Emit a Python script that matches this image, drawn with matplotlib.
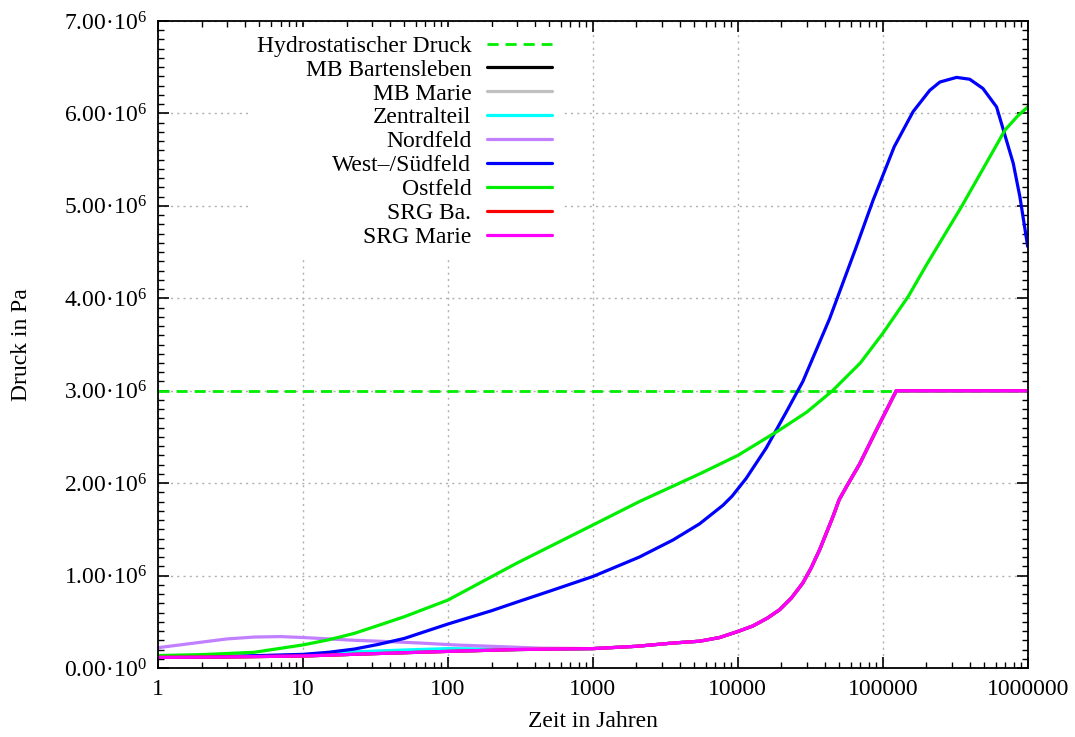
#!/usr/bin/env python3
import matplotlib
matplotlib.use('agg')
import matplotlib.pyplot as plt
from matplotlib.ticker import FixedLocator, FuncFormatter, LogLocator, MultipleLocator

plt.rcParams['font.family'] = ['Liberation Serif', 'DejaVu Serif']
plt.rcParams['mathtext.fontset'] = 'custom'
plt.rcParams['mathtext.rm'] = 'Liberation Serif'
plt.rcParams['mathtext.it'] = 'Liberation Serif:italic'
plt.rcParams['mathtext.bf'] = 'Liberation Serif:bold'

# Zeit in Jahren / Druck in Pa
hydro_t = [1, 1e6]
hydro_p = [3.0e6, 3.0e6]

srg_t = [1, 3, 10, 30, 100, 300, 1000, 2000, 3540, 5450, 7490, 10000, 12700,
         16000, 19400, 23500, 28100, 32000, 36700, 45400, 50000, 56100, 69400,
         90400, 124000, 1e6]
srg_p = [0.115e6, 0.12e6, 0.13e6, 0.155e6, 0.18e6, 0.20e6, 0.21e6, 0.235e6,
         0.27e6, 0.29e6, 0.33e6, 0.395e6, 0.455e6, 0.54e6, 0.63e6, 0.76e6,
         0.92e6, 1.08e6, 1.28e6, 1.64e6, 1.82e6, 1.96e6, 2.21e6, 2.575e6,
         3.0e6, 3.0e6]

zentral_t = [1, 3, 10, 22.6, 50, 100, 200, 300, 1000] + srg_t[7:]
zentral_p = [0.115e6, 0.125e6, 0.14e6, 0.175e6, 0.195e6, 0.21e6, 0.205e6,
             0.20e6, 0.21e6] + srg_p[7:]

nord_t = [1, 1.5, 2, 3, 4.6, 7, 10, 15, 22.6, 40, 65, 110, 200, 430,
          1000] + srg_t[7:]
nord_p = [0.22e6, 0.255e6, 0.28e6, 0.315e6, 0.335e6, 0.34e6, 0.33e6, 0.315e6,
          0.30e6, 0.285e6, 0.27e6, 0.25e6, 0.235e6, 0.215e6, 0.21e6] + srg_p[7:]

west_t = [1, 3, 10, 15, 22.6, 33, 50, 100, 200, 295, 500, 1000, 2090, 3570,
          5450, 7890, 9140, 11400, 15700, 21600, 28100, 43000, 65800, 85700,
          120000, 162000, 211000, 248000, 323000, 398000, 491000, 610000,
          795000, 883000, 1e6]
west_p = [0.115e6, 0.125e6, 0.148e6, 0.17e6, 0.205e6, 0.255e6, 0.32e6,
          0.476e6, 0.62e6, 0.71e6, 0.83e6, 0.99e6, 1.20e6, 1.385e6, 1.56e6,
          1.76e6, 1.86e6, 2.05e6, 2.38e6, 2.77e6, 3.1e6, 3.78e6, 4.56e6,
          5.06e6, 5.64e6, 6.02e6, 6.25e6, 6.34e6, 6.39e6, 6.37e6, 6.27e6,
          6.07e6, 5.46e6, 5.1e6, 4.56e6]

ost_t = [1, 2, 4.6, 10, 15, 22.6, 33, 50, 100, 295, 1000, 2090, 5450, 10000,
         19400, 30000, 45000, 70000, 100000, 150000, 200000, 349000, 500000,
         697000, 850000, 1e6]
ost_p = [0.135e6, 0.145e6, 0.17e6, 0.25e6, 0.305e6, 0.375e6, 0.46e6,
         0.555e6, 0.735e6, 1.13e6, 1.547e6, 1.80e6, 2.10e6, 2.30e6, 2.575e6,
         2.77e6, 3.0e6, 3.3e6, 3.62e6, 4.02e6, 4.36e6, 4.99e6, 5.42e6,
         5.82e6, 5.97e6, 6.07e6]

series = [
    ('MB Bartensleben', srg_t, srg_p, '#000000'),
    ('MB Marie', srg_t, srg_p, '#c0c0c0'),
    ('Zentralteil', zentral_t, zentral_p, '#00ffff'),
    ('Nordfeld', nord_t, nord_p, '#c080ff'),
    ('West\u2013/Südfeld', west_t, west_p, '#0000ff'),
    ('Ostfeld', ost_t, ost_p, '#00ee00'),
    ('SRG Ba.', srg_t, srg_p, '#ff0000'),
    ('SRG Marie', srg_t, srg_p, '#ff00ff'),
]

yticks = [0, 1e6, 2e6, 3e6, 4e6, 5e6, 6e6, 7e6]
xticks = [1, 10, 100, 1000, 10000, 100000, 1000000]


def sci_label(v, pos):
    if v == 0:
        return r'$\mathregular{0.00·10^{0}}$'
    e = len(str(int(abs(v)))) - 1
    return r'$\mathregular{%.2f·10^{%d}}$' % (v / 10 ** e, e)


fig = plt.figure(figsize=(10.75, 7.37), dpi=100)
ax = fig.add_axes([0.147, 0.0936, 0.809, 0.8779])

ax.plot(hydro_t, hydro_p, color='#00ee00', lw=2.0, dashes=(4, 2.5),
        label='Hydrostatischer Druck')
for name, t, p, c in series:
    ax.plot(t, p, color=c, lw=2.3, label=name,
            solid_joinstyle='round', solid_capstyle='round')

ax.set_xscale('log')
ax.set_xlim(1, 1e6)
ax.set_ylim(0, 7e6)
ax.xaxis.set_major_locator(FixedLocator(xticks))
ax.xaxis.set_major_formatter(FuncFormatter(lambda v, pos: '%d' % round(v)))
ax.xaxis.set_minor_locator(LogLocator(base=10, subs=range(2, 10), numticks=20))
ax.yaxis.set_major_locator(FixedLocator(yticks))
ax.yaxis.set_major_formatter(FuncFormatter(sci_label))
ax.yaxis.set_minor_locator(MultipleLocator(1e5))

ax.tick_params(which='both', direction='in', top=True, right=True,
               labelsize=17, colors='black')
ax.tick_params(which='major', length=8, width=1.2, pad=8)
ax.tick_params(which='minor', length=4, width=1.0)
for s in ax.spines.values():
    s.set_linewidth(1.3)

ax.grid(True, which='major', color='#b0b0b0', linestyle=(0, (1.5, 3)), lw=1.0)
ax.set_axisbelow(True)

ax.set_xlabel('Zeit in Jahren', fontsize=17, labelpad=8)
ax.set_ylabel('Druck in Pa', fontsize=17, labelpad=23)

leg = ax.legend(loc='upper right', bbox_to_anchor=(0.4765, 1.009),
                markerfirst=False, fontsize=17, handlelength=2.75,
                handletextpad=0.68, labelspacing=0.1, borderpad=0.35,
                fancybox=False, framealpha=1.0, edgecolor='none',
                facecolor='white')

fig.savefig('out.png', dpi=100)
